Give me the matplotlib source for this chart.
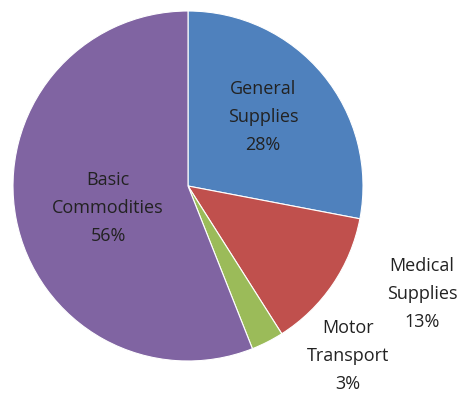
import matplotlib
matplotlib.use("Agg")
import matplotlib.pyplot as plt

categories = ["General\nSupplies", "Medical\nSupplies", "Motor\nTransport", "Basic\nCommodities"]
values = [28, 13, 3, 56]
colors = ["#4F81BD", "#C0504D", "#9BBB59", "#8064A2"]

W, H = 472, 410
fig = plt.figure(figsize=(W / 100, H / 100), dpi=100)
cx, cy, r = 188, 187, 175
ax = fig.add_axes([(cx - r) / W, (H - cy - r) / H, 2 * r / W, 2 * r / H])

ax.pie(values, colors=colors, startangle=90, counterclock=False, radius=1,
       wedgeprops=dict(linewidth=0.8, edgecolor="white"))
ax.set_xlim(-1, 1)
ax.set_ylim(-1, 1)
ax.set_aspect("equal")
ax.axis("off")

label_pos = [(0.43, 0.40), (1.337, -0.61), (0.914, -0.965), (-0.457, -0.12)]
total = sum(values)
for cat, v, (x, y) in zip(categories, values, label_pos):
    ax.text(x, y, f"{cat}\n{round(100 * v / total)}%", ha="center", va="center",
            fontsize=13, family=["Open Sans", "DejaVu Sans"], color="#222222",
            linespacing=1.7, clip_on=False)

fig.savefig("out.png", dpi=100)
